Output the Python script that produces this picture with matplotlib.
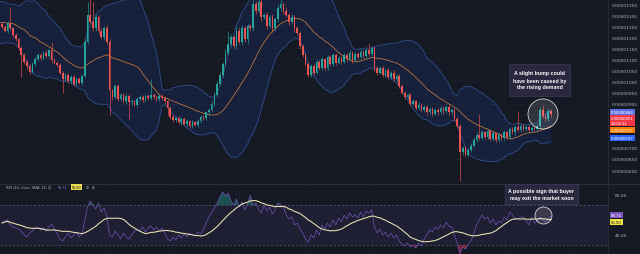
import numpy as np
import pandas as pd
import matplotlib
matplotlib.use('Agg')
import matplotlib.pyplot as plt
from matplotlib.patches import Rectangle, Ellipse

# prices are in units of 1e-8 (1350 -> 0.00001350)
prior_closes = [1180, 1240, 1330, 1290, 1200, 1300, 1340, 1260, 1190, 1280,
                1330, 1250, 1180, 1290, 1320, 1240, 1270, 1310, 1220, 1260]

closes = [1245, 1230, 1262, 1240, 1210, 1190, 1150, 1120, 1090, 1070,
          1045, 1080, 1100, 1120, 1105, 1130, 1115, 1140, 1095, 1085,
          1075, 1040, 1010, 1030, 1000, 1020, 990, 1010, 995, 1025,
          1180, 1300, 1270, 1240, 1290, 1230, 1200, 1240, 1180, 960,
          930, 980, 920, 940, 910, 935, 905, 910, 895, 920,
          930, 915, 935, 925, 940, 930, 920, 935, 925, 910,
          880, 840, 825, 835, 815, 830, 810, 820, 800, 815,
          805, 820, 840, 835, 860, 870, 900, 940, 990, 1030,
          1080, 1130, 1170, 1200, 1160, 1230, 1180, 1240, 1190, 1250,
          1240, 1350, 1320, 1360, 1290, 1300, 1250, 1290, 1240, 1280,
          1330, 1350, 1320, 1300, 1270, 1290, 1240, 1220, 1160, 1120,
          1080, 1030, 1070, 1040, 1090, 1060, 1100, 1060, 1110, 1080,
          1120, 1085, 1105, 1090, 1120, 1100, 1130, 1095, 1125, 1110,
          1135, 1115, 1140, 1125, 1150, 1060, 1040, 1060, 1030, 1050,
          1020, 1040, 1010, 1025, 980, 950, 930, 940, 900, 910,
          880, 895, 870, 885, 860, 875, 855, 870, 860, 880,
          865, 885, 860, 870, 830, 800, 680, 700, 670, 690,
          710, 735, 760, 745, 770, 750, 775, 740, 765, 735,
          760, 745, 770, 750, 785, 770, 795, 780, 800, 785,
          795, 780, 790, 785, 800, 870, 845, 830, 865, 851]

hi_wick = [10, 8, 12, 75, 8, 10, 8, 10, 8, 10,
           10, 8, 10, 8, 10, 8, 10, 8, 38, 10,
           8, 10, 8, 10, 8, 10, 8, 10, 8, 10,
           12, 60, 100, 90, 15, 10, 12, 10, 15, 10,
           8, 10, 8, 10, 8, 10, 8, 10, 8, 10,
           8, 10, 8, 10, 70, 10, 8, 10, 8, 10,
           8, 10, 8, 10, 8, 10, 8, 10, 8, 10,
           8, 10, 8, 10, 8, 10, 10, 12, 10, 15,
           10, 15, 60, 15, 10, 15, 10, 15, 10, 15,
           10, 40, 15, 40, 15, 10, 15, 10, 15, 10,
           15, 30, 10, 15, 10, 15, 10, 10, 10, 10,
           10, 8, 10, 8, 10, 8, 10, 8, 10, 8,
           10, 8, 10, 8, 10, 8, 10, 8, 10, 8,
           10, 8, 10, 35, 10, 8, 10, 8, 10, 8,
           10, 8, 10, 8, 8, 8, 8, 10, 8, 10,
           8, 10, 8, 10, 8, 10, 8, 10, 8, 10,
           8, 10, 8, 10, 8, 8, 8, 10, 8, 10,
           10, 10, 10, 95, 10, 8, 10, 8, 10, 8,
           10, 8, 10, 8, 10, 8, 10, 70, 10, 8,
           10, 8, 10, 8, 10, 15, 25, 10, 15, 10]

lo_wick = [10, 8, 10, 8, 10, 8, 10, 100, 10, 12,
           10, 8, 10, 8, 10, 8, 10, 8, 10, 8,
           10, 8, 60, 10, 8, 10, 12, 10, 8, 10,
           10, 8, 10, 12, 10, 12, 10, 12, 10, 110,
           12, 10, 8, 10, 8, 10, 75, 10, 8, 10,
           8, 10, 8, 10, 8, 10, 8, 10, 8, 10,
           30, 10, 8, 10, 8, 10, 8, 10, 8, 10,
           8, 10, 8, 10, 8, 10, 8, 10, 8, 10,
           10, 12, 10, 15, 10, 15, 10, 15, 10, 15,
           10, 10, 15, 10, 15, 10, 15, 10, 15, 10,
           10, 10, 15, 10, 15, 10, 15, 10, 15, 10,
           12, 10, 8, 10, 8, 10, 8, 10, 8, 10,
           8, 10, 8, 10, 8, 10, 8, 10, 8, 10,
           8, 10, 8, 10, 8, 12, 10, 8, 10, 8,
           10, 8, 10, 8, 10, 8, 10, 8, 10, 8,
           10, 8, 10, 8, 10, 8, 10, 8, 10, 8,
           10, 8, 10, 8, 10, 12, 130, 10, 12, 10,
           10, 8, 10, 8, 10, 8, 10, 8, 10, 8,
           10, 8, 10, 8, 10, 8, 10, 8, 10, 8,
           10, 8, 10, 8, 10, 10, 10, 10, 10, 10]

rsi_vals = [52, 54, 55, 50, 48, 47, 46, 44, 40, 38,
            42, 44, 47, 48, 45, 47, 44, 48, 51, 46,
            41, 36, 34, 38, 42, 37, 40, 43, 38, 41,
            55, 68, 74, 70, 66, 72, 63, 67, 58, 40,
            38, 44, 40, 36, 42, 38, 36, 40, 44, 46,
            44, 48, 43, 47, 49, 45, 48, 44, 47, 42,
            36, 34, 38, 35, 40, 37, 41, 38, 42, 40,
            39, 43, 41, 46, 52, 58, 62, 67, 72, 78,
            83, 79, 82, 74, 70, 76, 68, 73, 65, 71,
            80, 70, 72, 66, 62, 70, 64, 68, 61, 66,
            72, 70, 68, 60, 56, 58, 50, 52, 46, 42,
            36, 33, 40, 37, 45, 40, 50, 46, 52, 48,
            55, 50, 57, 53, 60, 56, 62, 58, 60, 57,
            63, 58, 64, 62, 65, 48, 42, 46, 40, 43,
            38, 42, 37, 40, 34, 31, 29, 32, 28, 30,
            27, 32, 29, 36, 40, 45, 43, 48, 46, 50,
            47, 53, 49, 48, 40, 32, 21, 28, 26, 31,
            34, 42, 50, 55, 60, 56, 58, 52, 56, 50,
            54, 52, 58, 55, 63, 60, 56, 56, 58, 58,
            54, 50, 58, 52, 54, 58, 55, 53, 56, 58.71]

price_ticks = [600, 650, 700, 900, 950, 1000, 1050, 1100, 1150, 1200, 1250, 1300, 1350]
rsi_ticks = [40, 80]

BG = '#151924'
GRID = '#1c202d'
TXT = '#b2b5be'
UP = '#26a69a'
DOWN = '#ef5350'

W, H = 640, 255
def fx(px):
    return px / W
def fy(py):
    return 1 - py / H

# indicators: Bollinger (20, 2) on close, RSI moving average (14)
all_closes = pd.Series(prior_closes + closes, dtype=float)
n0 = len(prior_closes)
mid = all_closes.rolling(20).mean()
sd = all_closes.rolling(20).std(ddof=0)
upper = mid + 2 * sd
lower = mid - 2 * sd
x_all = np.arange(len(all_closes)) - n0

rsi = pd.Series(rsi_vals, dtype=float)
rsi_ma = rsi.rolling(14, min_periods=1).mean()

c = np.array(closes, float)
o = np.r_[prior_closes[-1], c[:-1]]
hi = np.maximum(o, c) + np.array(hi_wick)
lo = np.minimum(o, c) - np.array(lo_wick)
x = np.arange(len(c))
col = np.where(c >= o, UP, DOWN)

step = 549 / (len(c) - 1)
xlim = (-2 / step, (608 - 2) / step)

fig = plt.figure(figsize=(6.4, 2.55), dpi=100, facecolor=BG)

# ---------------- price panel ----------------
ax = fig.add_axes([0, fy(184), fx(608), 184 / H])
ax.set_facecolor(BG)
for v in range(550, 1400, 50):
    ax.axhline(v, color=GRID, lw=0.5, zorder=0)
for v in range(-10, 230, 24):
    ax.axvline(v, color=GRID, lw=0.5, zorder=0)

ax.fill_between(x_all, lower, upper, color='#2962ff', alpha=0.1, lw=0, zorder=1)
ax.plot(x_all, upper, color='#2f4e8e', lw=0.6, zorder=2)
ax.plot(x_all, lower, color='#2f4e8e', lw=0.6, zorder=2)
ax.plot(x_all, mid, color='#d9823f', lw=0.5, zorder=2)

ax.vlines(x, lo, hi, colors=col, lw=0.45, zorder=3)
ax.bar(x, np.maximum(np.abs(c - o), 2), bottom=np.minimum(o, c), width=0.6,
       color=col, lw=0, zorder=4)

ax.set_xlim(*xlim)
ax.set_ylim(541.3, 1372.6)
ax.yaxis.tick_right()
ax.set_yticks(price_ticks)
ax.set_yticklabels([f"{v * 1e-8:.8f}" for v in price_ticks])
ax.tick_params(axis='y', length=0, pad=3, labelsize=3.2, labelcolor=TXT)
ax.set_xticks([])
for s in ax.spines.values():
    s.set_visible(False)

# ---------------- RSI panel ----------------
rax = fig.add_axes([0, 0, fx(608), 70 / H])
rax.set_facecolor(BG)
for v in range(-10, 230, 24):
    rax.axvline(v, color=GRID, lw=0.5, zorder=0)
rax.axhspan(30, 70, color='#7e57c2', alpha=0.1, lw=0, zorder=1)
rax.axhline(70, color='#5d606b', lw=0.5, ls=(0, (3, 3)), zorder=2)
rax.axhline(30, color='#5d606b', lw=0.5, ls=(0, (3, 3)), zorder=2)
rax.fill_between(x, 70, rsi, where=rsi > 70, interpolate=True,
                 color=UP, alpha=0.4, lw=0, zorder=2)
rax.fill_between(x, 30, rsi, where=rsi < 30, interpolate=True,
                 color='#f23645', alpha=0.45, lw=0, zorder=2)
rax.plot(x, rsi, color='#7153b5', lw=0.5, zorder=3)
rax.plot(x, rsi_ma, color='#ece7b4', lw=0.75, zorder=4)
rax.set_xlim(*xlim)
rax.set_ylim(21, 91)
rax.yaxis.tick_right()
rax.set_yticks(rsi_ticks)
rax.set_yticklabels([f"{v:.2f}" for v in rsi_ticks])
rax.tick_params(axis='y', length=0, pad=5, labelsize=3.2, labelcolor=TXT)
rax.set_xticks([])
for s in rax.spines.values():
    s.set_visible(False)

# separators
fig.add_artist(plt.Line2D([fx(608), fx(608)], [0, 1], color='#2a2e39', lw=0.6))
fig.add_artist(plt.Line2D([0, 1], [fy(184.5), fy(184.5)], color='#2a2e39', lw=0.8))

# RSI legend
fig.text(fx(6), fy(188), "RSI (14, close, SMA, 14, 2)", fontsize=2.7, color=TXT,
         va='center', ha='left', family='Liberation Sans')
fig.text(fx(58), fy(188), "58.71", fontsize=2.7, color='#9575cd', va='center',
         ha='left', family='Liberation Sans')
fig.text(fx(72), fy(188), "55.50", fontsize=2.7, color='#151924', va='center',
         ha='left', family='Liberation Sans',
         bbox=dict(boxstyle='square,pad=0.2', fc='#e6d94a', ec='none'))
fig.text(fx(86), fy(188), "\u2298  \u2298", fontsize=2.7, color=TXT, va='center', ha='left')

# price scale badges
badges = [
    (113.5, "0.00000866", '#5d6fe0', 'white'),
    (121.5, "0.00000851\n14:55:11", '#f23645', 'white'),
    (131, "0.00000797", '#f57c00', 'white'),
    (139, "0.00000747", '#2962ff', 'white'),
    (216, "58.71", '#7e57c2', 'white'),
    (223, "55.50", '#f5e447', '#151924'),
]
for py, txt, bg, fg in badges:
    fig.text(fx(611), fy(py), txt, fontsize=3.2, color=fg, va='center', ha='left',
             family='Liberation Sans', linespacing=1.3,
             bbox=dict(boxstyle='square,pad=0.3', fc=bg, ec='none'))

# annotations
def note(x0, y0, x1, y1, text):
    fig.add_artist(Rectangle((fx(x0), fy(y1)), fx(x1 - x0), (y1 - y0) / H,
                             transform=fig.transFigure, fc='#29283f', ec='#3b3a58',
                             lw=0.5, zorder=10))
    fig.text(fx((x0 + x1) / 2), fy((y0 + y1) / 2), text, fontsize=3.8, color='white',
             fontweight='bold', ha='center', va='center', linespacing=1.5,
             family='Liberation Sans', zorder=11)

note(509, 65, 570, 97, "A slight bump could\nhave been caused by\nthe rising demand")
note(505, 185, 578, 205, "A possible sign that buyer\nmay exit the market soon")

for cx, cy, r in [(543, 115, 15), (543.5, 216.5, 8.5)]:
    fig.add_artist(Ellipse((fx(cx), fy(cy)), 2 * r / W, 2 * r / H,
                           transform=fig.transFigure, fc=(1, 1, 1, 0.12),
                           ec=(1, 1, 1, 0.8), lw=0.6, zorder=9))

fig.savefig('out.png', dpi=100, facecolor=BG)
